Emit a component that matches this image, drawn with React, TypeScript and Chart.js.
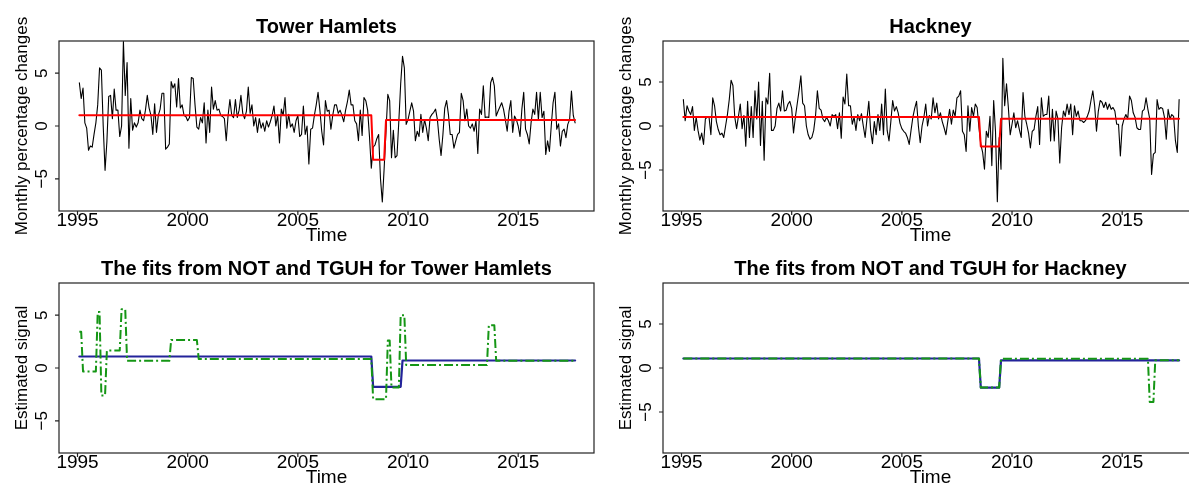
import React, { useEffect, useRef } from 'react';
import { Chart, registerables } from 'chart.js';

Chart.register(...registerables);

const FONT = '"Liberation Sans", Arial, Helvetica, sans-serif';

// Axis settings
const xTickValues = [1995, 2000, 2005, 2010, 2015];
const yTickValues = [-5, 0, 5];
const X_MIN = 1994.16;
const X_MAX = 2018.44;
const thRange = [-8.05, 8.05];
const hkRange = [-9.66, 9.66];
const LAST_MONTH = 270; // monthly observations Feb 1995 .. Jul 2017

// Monthly percentage changes, Tower Hamlets (Feb 1995 onwards)
const towerHamlets = [
  4.1, 2.6, 3.6, 0.3, -0.2, -2.3, -1.9, -2.0, -0.8, 0.3, 2.0, 5.5, 5.3, 0.0, -4.2, -1.5, 2.8, 2.9, 0.7, 3.5, 1.5, 1.5, -1.0, 0.0, 8.0,
  2.9, 6.0, -2.1, 2.6, -0.4, 0.3, -0.1, 0.3, 1.5, 0.7, 0.5, 1.5, 2.9, 1.7, 1.0, -0.8, 2.1, -0.6, 1.0, 1.6, 3.1, 3.1, -2.2, -2.0, -1.7, 4.2, 3.6, 4.0, 1.8, 4.5, 1.7, 2.0, 1.0, 0.9, 0.5, 0.8,
  4.6, 4.5, 2.0, -0.1, -0.3, 0.8, 0.3, 2.2, -1.6, 1.5, -0.6, 3.7, 1.6, 2.4, 1.5, 1.6, 1.0, 0.9, 0.7, -1.4, 1.0, 2.5,
  1.0, 0.8, 2.5, 0.8, 1.5, 2.9, 1.2, 0.7, 1.4, 3.7,
  1.2, 2.0, 0.0, 0.8, -0.6, 0.7, -0.2, 0.3, -0.5, 0.5,
  -0.1, 0.4, 1.0, 1.9, 0.0, 1.0, -1.6, 1.6, 1.0, 2.7,
  -0.2, 1.1, -0.1, 0.2, -0.6, 0.5, 1.0, -1.0, -0.8, 1.9,
  -0.8, 0.0, -3.6, -0.3, -0.2, 1.0, 2.0, 3.2, 1.5, -0.5,
  -1.8, 2.4, 1.4, 1.5, -0.3, 1.0, 2.0, 2.0, 1.2, 1.5,
  1.0, 0.4, 1.5, 2.3, 3.4, 2.0, 2.0, 0.5, 0.2, -1.4,
  1.5, -0.9, 2.7, 2.4, 1.5, -1.0, -4.0, -2.0, -1.8, -1.2,
  -0.8, -5.0, -7.2, -4.0, -0.5, 3.0, 2.4, -3.0, -0.4, -3.0,
  -2.8, 0.5, 4.0,
  6.6, 5.5, 0.15, 0.6, 1.4, 2.2, 1.4, -1.4, -0.5, -1.0,
  1.1, -0.6, 0.6, -0.2, -1.4, 0.8, 1.1, 1.3, 1.6, 0.6,
  -1.3, -2.8, -0.8, 1.7, 2.4, 1.1, -0.8, -0.8, -2.1, -1.4,
  -0.8, -0.6, 3.1, 2.4, 0.5, 1.6, 0.0, -0.2, 0.2, -0.5,
  0.5, -2.6, 1.6, 1.1, 3.8, 0.8, 0.85, 0.8, 4.1, 4.6,
  3.8, 0.95, 1.4, 1.8, 2.2, 1.6, 0.6, -0.5, 1.4, 2.4,
  -0.6, 0.95, 0.6, 0.0, -1.0, 1.6, 3.2, -0.3, -0.8, -1.7,
  0.3, 1.6, 1.1, 3.2, 0.6, 3.2, 0.8, 1.4, -2.7, -1.4,
  -2.4, 0.0, 2.2, 3.2, -0.3, 0.2, -1.9, -0.5, -0.3, -1.1,
  0.15, 0.6, 3.3, 1.0, 0.3,
];

// Monthly percentage changes, Hackney (Feb 1995 onwards)
const hackney = [
  3.0, 0.6, 2.3, 1.7, 1.3, 2.2, -0.5, 1.0, -0.5, -1.6,
  -0.8, -2.1, 0.8, 1.0, 1.0, -1.0, 3.2, 2.3, 0.5, -0.4,
  -1.0, -0.8, -1.3, 0.0, 1.3, 3.0, 5.2, 4.6, 1.0, -0.3,
  1.1, 2.5, -0.3, 1.2, -2.3, 2.8, -1.3, 2.2, -1.3, 4.0,
  0.8, 5.0, -2.2, 2.8, -3.9, 3.2, 2.5, 6.0, -0.5, -0.5,
  0.0, 2.0, 2.6, 1.7, 4.0, 1.7, 1.8, 2.5, 2.8, 2.0,
  -0.8,
  1.0, 2.5, 4.0, 5.7, 2.6, 2.3, 0.0, -1.0, -1.5, -1.3, -0.5, 1.2, 4.0, 2.0, 1.8, 0.8, 0.5, 1.0, 0.6,
  0.0, 1.3, 1.1, 1.3, -0.3, 1.5, -1.4, 3.3, 2.5, 5.9,
  2.3, 2.3, 0.2, 1.0, -0.5, 1.3, 0.6, 1.4, 0.0, -1.3,
  0.8, 2.8, -0.5, -2.0, 0.5, -1.0, 1.3, -0.5, 2.5, -1.0,
  4.2, -0.5, -1.7, 0.5, 2.9, 1.7, 2.2, 1.5, 0.3, -0.3,
  -0.6, -0.8, -1.3, -2.1, -0.5, 1.0, 2.0, 2.8, 0.0, -1.9,
  0.0, 1.0, 2.5, 0.0, 1.2, 0.8, 3.2, 1.5, 2.6, 0.8,
  1.5, 0.5, -0.2, -1.0, 0.5,
  1.9, 0.2, 1.8, 1.1, 3.2, 3.4, 4.0, -0.6, -1.0, -2.9,
  2.3, -0.6, 2.1, 1.1, 2.5, 2.1, -0.2, -2.1, -3.0, -4.9,
  -0.6, -1.3, 1.1, -4.5, 2.9, -0.6, -8.6, -1.3, -4.9, 7.7,
  2.3, 4.8, 2.1, -1.0, 0.2, 1.5, -0.2, 0.6, -0.4, -1.3,
  3.8, 1.1, 0.2, -0.8, -2.5, -0.6, -0.4, 1.1, 2.2, -2.1,
  3.2, 1.1, 1.3, 1.3, 3.4, -1.7, 1.9, -1.7, 1.7, 0.8,
  -4.2, -0.2, 1.7, 1.1, 2.5, 1.3, 2.5, -1.0, 2.3, 1.1,
  1.7, 0.6, 0.6, 0.4, 0.6, 1.1, 1.7, 2.9, 4.0, 2.3,
  -0.6, 1.7, 2.9, 2.7, 2.1, 2.7, 1.9, 2.5, 1.9, 2.1,
  1.7, 0.2, 0.2, -3.4, 0.0, 0.8, 1.3, 0.8, 3.4, 2.9,
  1.5, 1.0, -0.2, -0.4, -0.4, 1.7, 1.9, 3.2, 1.9, 0.8,
  -5.5, -3.2, -3.0, 3.0, 1.9, 2.1, 2.0, 1.0, -1.5, 1.9,
  0.8, 1.3, 1.1, -1.7, -3.0, 3.0,
];

// Piecewise-constant fits: first month of each segment and its level
const thTopFitStarts = [0, 160, 167];
const thTopFitLevels = [1.02, -3.19, 0.56];
const hkTopFitStarts = [0, 162, 173];
const hkTopFitLevels = [1.03, -2.32, 0.83];

const thNotStarts = [0, 160, 176];
const thNotLevels = [1.09, -1.78, 0.71];
const thTguhStarts = [0, 2, 10, 12, 15, 23, 26, 50, 65, 160, 168, 170, 175, 178, 223, 227];
const thTguhLevels = [3.43, -0.32, 5.3, -2.6, 1.65, 5.56, 0.68, 2.65, 0.85, -2.95, 2.6, -1.85, 5.0, 0.29, 4.05, 0.68];

const hkNotStarts = [0, 162, 173];
const hkNotLevels = [1.08, -2.23, 0.86];
const hkTguhStarts = [0, 162, 173, 254, 257];
const hkTguhLevels = [1.08, -2.23, 1.05, -3.85, 0.88];

function monthToYear(m: number) {
  return 1995 + (m + 1) / 12;
}

function seriesPoints(values: number[]) {
  return values.map((v, i) => ({ x: monthToYear(i), y: v }));
}

function stepPoints(starts: number[], levels: number[]) {
  const pts: { x: number; y: number }[] = [];
  starts.forEach((s, i) => {
    const e = i + 1 < starts.length ? starts[i + 1] - 1 : LAST_MONTH;
    pts.push({ x: monthToYear(s), y: levels[i] });
    if (e > s) pts.push({ x: monthToYear(e), y: levels[i] });
  });
  return pts;
}

const framePlugin = {
  id: 'rFrame',
  afterDraw(chart: any) {
    const { ctx, chartArea: a, scales } = chart;
    ctx.save();
    ctx.strokeStyle = '#222';
    ctx.lineWidth = 1.2;
    ctx.strokeRect(a.left, a.top, a.right - a.left, a.bottom - a.top);
    ctx.beginPath();
    xTickValues.forEach((v) => {
      const px = scales.x.getPixelForValue(v);
      ctx.moveTo(px, a.bottom);
      ctx.lineTo(px, a.bottom + 4);
    });
    yTickValues.forEach((v) => {
      const py = scales.y.getPixelForValue(v);
      ctx.moveTo(a.left, py);
      ctx.lineTo(a.left - 4, py);
    });
    ctx.stroke();
    ctx.restore();
  },
};

type PanelProps = {
  left: number;
  top: number;
  title: string;
  yTitle: string;
  yMin: number;
  yMax: number;
  datasets: any[];
};

function Panel({ left, top, title, yTitle, yMin, yMax, datasets }: PanelProps) {
  const ref = useRef<HTMLCanvasElement>(null);
  useEffect(() => {
    if (!ref.current) return;
    const chart = new Chart(ref.current, {
      type: 'line',
      data: { datasets },
      options: {
        responsive: false,
        animation: false,
        devicePixelRatio: 1,
        events: [],
        layout: { padding: { left: 0, right: 6, top: 0, bottom: 0 } },
        elements: { point: { radius: 0 }, line: { tension: 0 } },
        plugins: {
          legend: { display: false },
          tooltip: { enabled: false },
          title: {
            display: true,
            text: title,
            fullSize: false,
            color: '#000',
            font: { family: FONT, size: 20, weight: 'bold', lineHeight: 1.2 },
            padding: { top: 15.5, bottom: 1.5 },
          },
        },
        scales: {
          x: {
            type: 'linear',
            position: 'bottom',
            min: X_MIN,
            max: X_MAX,
            afterFit: (s: any) => {
              s.height = 39;
            },
            afterBuildTicks: (s: any) => {
              s.ticks = xTickValues.map((v) => ({ value: v }));
            },
            grid: { display: false, drawTicks: false },
            border: { display: false },
            ticks: {
              autoSkip: false,
              minRotation: 0,
              maxRotation: 0,
              padding: 0.5,
              color: '#000',
              font: { family: FONT, size: 19, lineHeight: 1 },
              callback: (v: any) => String(v),
            },
            title: {
              display: true,
              text: 'Time',
              color: '#000',
              font: { family: FONT, size: 19, lineHeight: 1.2 },
              padding: { top: 0, bottom: 2.6 },
            },
          },
          y: {
            type: 'linear',
            position: 'left',
            min: yMin,
            max: yMax,
            afterFit: (s: any) => {
              s.width = 59;
            },
            afterBuildTicks: (s: any) => {
              s.ticks = yTickValues.map((v) => ({ value: v }));
            },
            grid: { display: false, drawTicks: false },
            border: { display: false },
            ticks: {
              autoSkip: false,
              minRotation: 90,
              maxRotation: 90,
              crossAlign: 'center',
              padding: 7.3,
              color: '#000',
              font: { family: FONT, size: 17, lineHeight: 1.2 },
              callback: (v: any) => (v < 0 ? '\u2212' + Math.abs(v) : String(v)),
            },
            title: {
              display: true,
              text: yTitle,
              color: '#000',
              font: { family: FONT, size: 17, lineHeight: 1.2 },
              padding: { top: 11.8, bottom: 0 },
            },
          },
        },
      } as any,
      plugins: [framePlugin],
    });
    return () => chart.destroy();
  }, []);
  return (
    <canvas
      ref={ref}
      width={600}
      height={250}
      style={{ position: 'absolute', left, top, width: 600, height: 250 }}
    />
  );
}

const base = { pointRadius: 0, tension: 0, fill: false, borderJoinStyle: 'round', borderCapStyle: 'round' };

function dataLine(values: number[]) {
  return { ...base, data: seriesPoints(values), borderColor: '#000000', borderWidth: 1.1, order: 1 };
}
function redFit(starts: number[], levels: number[]) {
  return { ...base, data: stepPoints(starts, levels), borderColor: '#ff0000', borderWidth: 2, order: 0 };
}
function blueFit(starts: number[], levels: number[]) {
  return { ...base, data: stepPoints(starts, levels), borderColor: '#23239a', borderWidth: 2.2, order: 1 };
}
function greenFit(starts: number[], levels: number[]) {
  return {
    ...base,
    borderCapStyle: 'butt',
    data: stepPoints(starts, levels),
    borderColor: '#159615',
    borderWidth: 2,
    borderDash: [9, 3, 2, 3],
    order: 0,
  };
}

export default function App() {
  return (
    <div
      style={{
        position: 'fixed',
        left: 0,
        top: 0,
        width: 1189,
        height: 485,
        overflow: 'hidden',
        background: '#ffffff',
      }}
    >
      <Panel
        left={0}
        top={0}
        title="Tower Hamlets"
        yTitle="Monthly percentage changes"
        yMin={thRange[0]}
        yMax={thRange[1]}
        datasets={[dataLine(towerHamlets), redFit(thTopFitStarts, thTopFitLevels)]}
      />
      <Panel
        left={604}
        top={0}
        title="Hackney"
        yTitle="Monthly percentage changes"
        yMin={hkRange[0]}
        yMax={hkRange[1]}
        datasets={[dataLine(hackney), redFit(hkTopFitStarts, hkTopFitLevels)]}
      />
      <Panel
        left={0}
        top={242}
        title="The fits from NOT and TGUH for Tower Hamlets"
        yTitle="Estimated signal"
        yMin={thRange[0]}
        yMax={thRange[1]}
        datasets={[blueFit(thNotStarts, thNotLevels), greenFit(thTguhStarts, thTguhLevels)]}
      />
      <Panel
        left={604}
        top={242}
        title="The fits from NOT and TGUH for Hackney"
        yTitle="Estimated signal"
        yMin={hkRange[0]}
        yMax={hkRange[1]}
        datasets={[blueFit(hkNotStarts, hkNotLevels), greenFit(hkTguhStarts, hkTguhLevels)]}
      />
    </div>
  );
}
